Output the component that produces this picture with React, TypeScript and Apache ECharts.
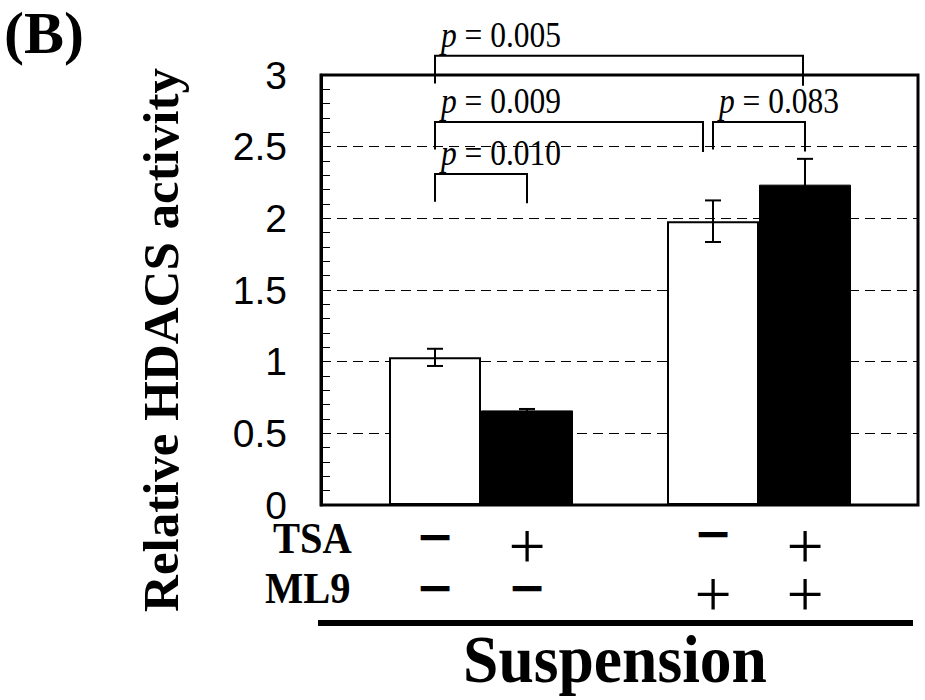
import React, { useEffect, useRef } from 'react';
import * as echarts from 'echarts';

// ---- data ----
const groups = ['ML9 −', 'ML9 +'];
const tsaMinus = [1.03, 1.98]; // white bars
const tsaPlus = [0.66, 2.235]; // black bars
const tsaMinusErr = [0.06, 0.145];
const tsaPlusErr = [0.01, 0.18];
const yMin = 0;
const yMax = 3;
const yInterval = 0.5;
const tsaRow = ['−', '+', '−', '+'];
const ml9Row = ['−', '−', '+', '+'];
// significance brackets (bar index 0..3, values on the y scale)
const bracketFrom = [0, 0, 2, 0];
const bracketTo = [1, 2, 3, 3];
const bracketTop = [2.31, 2.672, 2.672, 3.135];
const bracketLegL = [2.115, 2.48, 2.48, 2.94];
const bracketLegR = [2.105, 2.463, 2.466, 2.925];
const pValues = ['0.010', '0.009', '0.083', '0.005'];

// ---- style constants ----
const BAR_W = 92;
const CAP_W = 16;
const BRACKET_END_NUDGE = [0, -10, 0, -2];
const SERIF = '"Liberation Serif", "Times New Roman", serif';
const SANS = '"Liberation Sans", Arial, sans-serif';

export default function App() {
  const ref = useRef<HTMLDivElement>(null);
  useEffect(() => {
    const chart = echarts.init(ref.current!, null, { renderer: 'svg' });

    const barCenter = (api: any, bar: number) => {
      const g = Math.floor(bar / 2);
      const side = bar % 2 === 0 ? -1 : 1;
      return api.coord([g, 0])[0] + (side * BAR_W) / 2;
    };

    const errData: any[] = [];
    groups.forEach((_, g) => {
      errData.push([g, tsaMinus[g], tsaMinusErr[g], 0]);
      errData.push([g, tsaPlus[g], tsaPlusErr[g], 1]);
    });

    const bracketData = bracketFrom.map((f, i) => [
      f,
      bracketTo[i],
      bracketTop[i],
      bracketLegL[i],
      bracketLegR[i],
    ]);

    chart.setOption({
      animation: false,
      backgroundColor: '#fff',
      grid: [
        {
          left: 321,
          right: 7,
          top: 75,
          bottom: 195,
          show: true,
          borderColor: '#000',
          borderWidth: 3,
          backgroundColor: 'transparent',
        },
        { left: 342, right: 27, top: 75, bottom: 195 },
      ],
      xAxis: [
        { gridIndex: 0, type: 'value', show: false, min: 0, max: 1 },
        {
          gridIndex: 1,
          type: 'category',
          data: groups,
          show: false,
        },
      ],
      yAxis: [
        {
          gridIndex: 0,
          type: 'value',
          min: yMin,
          max: yMax,
          interval: yInterval,
          axisLine: { show: true, lineStyle: { color: '#000', width: 3 } },
          axisTick: { show: true, inside: true, length: 9, lineStyle: { color: '#000', width: 1 } },
          minorTick: { show: true, splitNumber: 5, length: 9, lineStyle: { color: '#000', width: 1 } },
          splitLine: { show: true, lineStyle: { color: '#000', width: 1, type: [10, 6] } },
          axisLabel: {
            fontSize: 39,
            fontFamily: SANS,
            color: '#000',
            margin: 34,
            padding: [6, 0, 0, 0],
            formatter: (v: number) => String(v),
          },
        },
        { gridIndex: 1, type: 'value', min: yMin, max: yMax, show: false },
      ],
      series: [
        {
          type: 'bar',
          name: 'TSA −',
          xAxisIndex: 1,
          yAxisIndex: 1,
          data: tsaMinus,
          barWidth: BAR_W,
          barGap: '0%',
          itemStyle: { color: '#fff', borderColor: '#000', borderWidth: 2 },
          z: 3,
        },
        {
          type: 'bar',
          name: 'TSA +',
          xAxisIndex: 1,
          yAxisIndex: 1,
          data: tsaPlus,
          barWidth: BAR_W,
          barGap: '0%',
          itemStyle: { color: '#000', borderColor: '#000', borderWidth: 1 },
          z: 3,
        },
        {
          type: 'custom',
          name: 'error',
          xAxisIndex: 1,
          yAxisIndex: 1,
          data: errData,
          z: 5,
          renderItem: (params: any, api: any) => {
            const g = api.value(0);
            const v = api.value(1);
            const e = api.value(2);
            const side = api.value(3);
            const x = barCenter(api, g * 2 + side);
            const yt = api.coord([g, v + e])[1];
            const yb = api.coord([g, v - e])[1];
            const st = { stroke: '#000', lineWidth: 2 };
            return {
              type: 'group',
              children: [
                { type: 'line', shape: { x1: x, y1: yt, x2: x, y2: yb }, style: st },
                { type: 'line', shape: { x1: x - CAP_W / 2, y1: yt, x2: x + CAP_W / 2, y2: yt }, style: st },
                { type: 'line', shape: { x1: x - CAP_W / 2, y1: yb, x2: x + CAP_W / 2, y2: yb }, style: st },
              ],
            };
          },
        },
        {
          type: 'custom',
          name: 'brackets',
          xAxisIndex: 1,
          yAxisIndex: 1,
          data: bracketData,
          clip: false,
          z: 6,
          renderItem: (params: any, api: any) => {
            const i = params.dataIndex;
            const xl = barCenter(api, api.value(0));
            const xr = barCenter(api, api.value(1)) + BRACKET_END_NUDGE[i];
            const yt = api.coord([0, api.value(2)])[1];
            const yl = api.coord([0, api.value(3)])[1];
            const yr = api.coord([0, api.value(4)])[1];
            return {
              type: 'group',
              children: [
                {
                  type: 'polyline',
                  shape: { points: [[xl, yl], [xl, yt], [xr, yt], [xr, yr]] },
                  style: { stroke: '#000', lineWidth: 2, fill: null },
                },
                {
                  type: 'text',
                  x: xl + 6,
                  y: yt - 21,
                  scaleX: 0.9,
                  style: {
                    text: '{i|p} = ' + pValues[i],
                    rich: { i: { fontStyle: 'italic', fontFamily: SERIF, fontSize: 35, fill: '#000' } },
                    font: `35px ${SERIF}`,
                    fontFamily: SERIF,
                    fontSize: 35,
                    fill: '#000',
                    align: 'left',
                    verticalAlign: 'middle',
                  },
                },
              ],
            };
          },
        },
      ],
    });

    // annotation texts below the axis
    const colX = [0, 1, 2, 3].map((b) => {
      const g = Math.floor(b / 2);
      const c = chart.convertToPixel({ xAxisIndex: 1 }, g) as number;
      return c + ((b % 2 === 0 ? -1 : 1) * BAR_W) / 2;
    });

    const txt = (text: string, x: number, y: number, font: string, extra: any = {}, align = 'left') => ({
      type: 'text',
      x,
      y,
      ...extra,
      style: {
        text,
        font,
        fill: '#000',
        align,
        verticalAlign: 'middle',
        textAlign: align,
        textVerticalAlign: 'middle',
      },
    });

    // one two-line text per column: TSA sign above ML9 sign
    const LINE_H = 48;
    const plusTok = (pt: number, pb: number) => ({
      fontFamily: SERIF,
      fontSize: 66,
      fontWeight: 'normal',
      lineHeight: LINE_H,
      padding: [pt, 0, pb, 0],
      fill: '#000',
    });
    const minusTok = (pt: number, pb: number) => ({
      fontFamily: '"DejaVu Sans", sans-serif',
      fontSize: 46,
      fontWeight: 'bold',
      lineHeight: LINE_H,
      padding: [pt, 0, pb, 0],
      fill: '#000',
    });
    const signEls = tsaRow.map((s, i) => {
      const a = s === '+' ? 'pa' : i < 2 ? 'ma' : 'mc';
      const b = ml9Row[i] === '+' ? 'pb' : 'mb';
      return {
        type: 'text',
        x: colX[i],
        y: 566,
        style: {
          text: `{${a}|${s}}\n{${b}|${ml9Row[i]}}`,
          align: 'center',
          verticalAlign: 'middle',
          textAlign: 'center',
          textVerticalAlign: 'middle',
          rich: {
            pa: plusTok(6, 0),
            ma: minusTok(0, 12),
            mc: minusTok(0, 18),
            pb: plusTok(6, 0),
            mb: minusTok(0, 6),
          },
        },
      };
    });

    chart.setOption({
      graphic: [
        txt('(B)', 4, 33, `bold 60px ${SERIF}`),
        txt('Relative HDACS activity', 161, 340, `bold 51px ${SERIF}`, { rotation: Math.PI / 2 }, 'center'),
        txt('TSA', 273, 538, `bold 45px ${SERIF}`, { scaleX: 0.9 }),
        txt('ML9', 265, 588, `bold 45px ${SERIF}`, { scaleX: 0.9 }),
        ...signEls,
        { type: 'rect', shape: { x: 318, y: 620, width: 595, height: 6 }, style: { fill: '#000' } },
        txt('Suspension', 615, 659, `bold 68px ${SERIF}`, { scaleX: 0.935 }, 'center'),
      ],
    });

    return () => chart.dispose();
  }, []);

  return (
    <div
      ref={ref}
      style={{ position: 'fixed', left: 0, top: 0, width: 925, height: 700, background: '#fff' }}
    />
  );
}
